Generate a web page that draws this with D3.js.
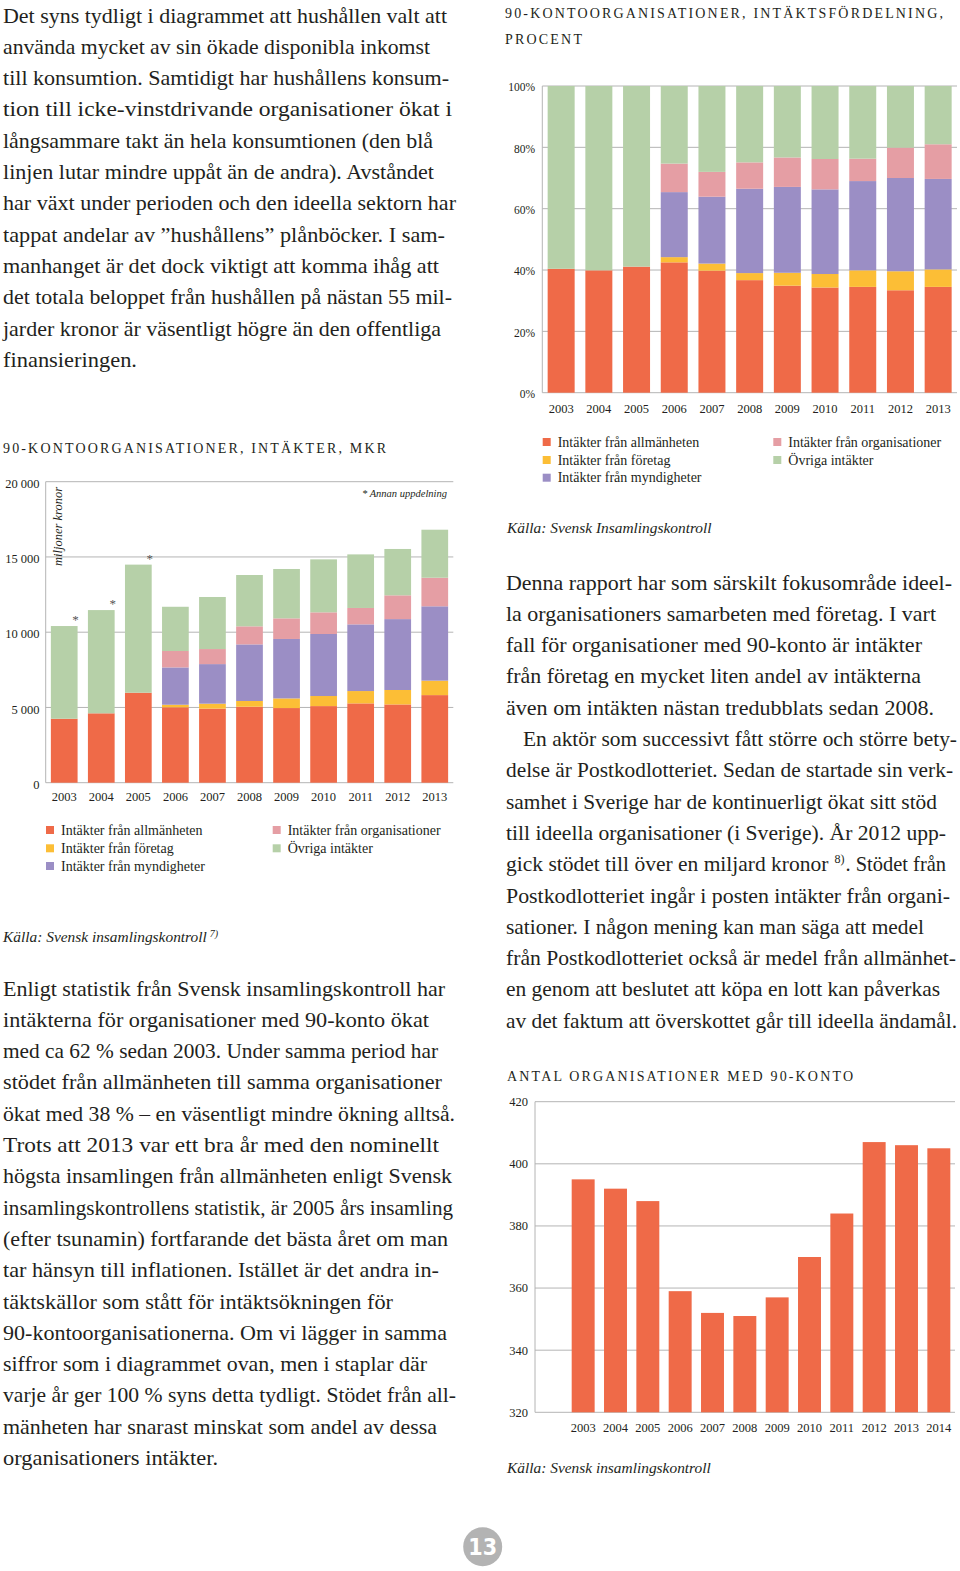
<!DOCTYPE html>
<html>
<head>
<meta charset="utf-8">
<script src="https://cdn.jsdelivr.net/npm/d3@7"></script>
<style>
  html, body { margin: 0; padding: 0; background: #fff; }
  svg { display: block; }
  text { font-family: "Liberation Serif", "DejaVu Serif", serif; fill: #231f20; }
</style>
</head>
<body>
<svg id="page" width="960" height="1571"></svg>
<script>
// ---------- DATA ----------
const years = ["2003","2004","2005","2006","2007","2008","2009","2010","2011","2012","2013"];

// Intäkter, MKR (miljoner kronor)
const mkrAllmanheten    = [4250, 4610, 5980, 5010, 4920, 5050, 4960, 5090, 5270, 5200, 5820];
const mkrForetag        = [0, 0, 0, 170, 330, 380, 640, 670, 820, 960, 960];
const mkrMyndigheter    = [0, 0, 0, 2480, 2630, 3760, 3950, 4120, 4430, 4710, 4940];
const mkrOrganisationer = [0, 0, 0, 1090, 1000, 1200, 1370, 1440, 1090, 1580, 1900];
const mkrOvriga         = [6160, 6860, 8510, 2940, 3460, 3410, 3280, 3520, 3560, 3080, 3190];
const mkrTicks      = [0, 5000, 10000, 15000, 20000];
const mkrTickLabels = ["0", "5 000", "10 000", "15 000", "20 000"];
const annanYears = ["2003", "2004", "2005"];

// Intäktsfördelning, procent
const pctAllmanheten    = [40.4, 39.9, 41.1, 42.5, 39.8, 36.7, 34.9, 34.3, 34.5, 33.4, 34.5];
const pctForetag        = [0, 0, 0, 1.7, 2.3, 2.3, 4.2, 4.4, 5.4, 6.2, 5.7];
const pctMyndigheter    = [0, 0, 0, 21.2, 21.8, 27.5, 28.0, 27.6, 29.1, 30.4, 29.5];
const pctOrganisationer = [0, 0, 0, 9.3, 8.1, 8.6, 9.6, 9.9, 7.3, 9.9, 11.3];
const pctOvriga         = [59.6, 60.1, 58.9, 25.3, 28.0, 24.9, 23.3, 23.8, 23.7, 20.1, 19.0];
const pctTicks      = [0, 20, 40, 60, 80, 100];
const pctTickLabels = ["0%", "20%", "40%", "60%", "80%", "100%"];

// Antal organisationer med 90-konto
const orgYears = ["2003","2004","2005","2006","2007","2008","2009","2010","2011","2012","2013","2014"];
const orgCount = [395, 392, 388, 359, 352, 351, 357, 370, 384, 407, 406, 405];
const orgTicks = [320, 340, 360, 380, 400, 420];

const seriesKeys  = ["allm", "foretag", "myndigheter", "org", "ovriga"];
const seriesNames = ["Intäkter från allmänheten", "Intäkter från företag", "Intäkter från myndigheter",
                     "Intäkter från organisationer", "Övriga intäkter"];
const seriesColors = ["#ef6a48", "#fcbe36", "#9b8ec5", "#e59ea4", "#b6d0a8"];

// Texts
const paraTopLeft = [
  "Det syns tydligt i diagrammet att hushållen valt att",
  "använda mycket av sin ökade disponibla inkomst",
  "till konsumtion. Samtidigt har hushållens konsum-",
  "tion till icke-vinstdrivande organisationer ökat i",
  "långsammare takt än hela konsumtionen (den blå",
  "linjen lutar mindre uppåt än de andra). Avståndet",
  "har växt under perioden och den ideella sektorn har",
  "tappat andelar av ”hushållens” plånböcker. I sam-",
  "manhanget är det dock viktigt att komma ihåg att",
  "det totala beloppet från hushållen på nästan 55 mil-",
  "jarder kronor är väsentligt högre än den offentliga",
  "finansieringen."
];
const paraBottomLeft = [
  "Enligt statistik från Svensk insamlingskontroll har",
  "intäkterna för organisationer med 90-konto ökat",
  "med ca 62 % sedan 2003. Under samma period har",
  "stödet från allmänheten till samma organisationer",
  "ökat med 38 % – en väsentligt mindre ökning alltså.",
  "Trots att 2013 var ett bra år med den nominellt",
  "högsta insamlingen från allmänheten enligt Svensk",
  "insamlingskontrollens statistik, är 2005 års insamling",
  "(efter tsunamin) fortfarande det bästa året om man",
  "tar hänsyn till inflationen. Istället är det andra in-",
  "täktskällor som stått för intäktsökningen för",
  "90-kontoorganisationerna. Om vi lägger in samma",
  "siffror som i diagrammet ovan, men i staplar där",
  "varje år ger 100 % syns detta tydligt. Stödet från all-",
  "mänheten har snarast minskat som andel av dessa",
  "organisationers intäkter."
];
const paraRight = [
  "Denna rapport har som särskilt fokusområde ideel-",
  "la organisationers samarbeten med företag. I vart",
  "fall för organisationer med 90-konto är intäkter",
  "från företag en mycket liten andel av intäkterna",
  "även om intäkten nästan tredubblats sedan 2008.",
  "En aktör som successivt fått större och större bety-",
  "delse är Postkodlotteriet. Sedan de startade sin verk-",
  "samhet i Sverige har de kontinuerligt ökat sitt stöd",
  "till ideella organisationer (i Sverige). År 2012 upp-",
  "gick stödet till över en miljard kronor|8)|. Stödet från",
  "Postkodlotteriet ingår i posten intäkter från organi-",
  "sationer. I någon mening kan man säga att medel",
  "från Postkodlotteriet också är medel från allmänhet-",
  "en genom att beslutet att köpa en lott kan påverkas",
  "av det faktum att överskottet går till ideella ändamål."
];

// ---------- LAYOUT (line right edges measured on the page) ----------
const endsTopLeft    = [447, 430, 449, 452, 433, 434, 456, 445, 439, 452, 441, 137];
const endsBottomLeft = [445, 429, 438, 442, 455, 439, 452, 453, 448, 439, 393, 447, 427, 456, 437, 218];
const endsRight      = [952, 936, 922, 921, 934, 957, 953, 937, 946, 946, 950, 924, 956, 940, 957];

// ---------- DRAWING ----------
const svg = d3.select("#page");
svg.append("rect").attr("width", 960).attr("height", 1571).attr("fill", "#fff");

const GRID = "#b4b4b4";

function paragraph(lines, ends, x, y0, step, opts = {}) {
  const g = svg.append("g");
  lines.forEach((line, i) => {
    const lx = x + ((opts.indent && opts.indent[i]) || 0);
    const y = y0 + i * step;
    const parts = line.split("|");
    if (parts.length === 1) {
      g.append("text")
        .attr("x", lx).attr("y", y)
        .style("font-size", "21.5px")
        .attr("textLength", ends[i] - lx)
        .attr("lengthAdjust", "spacingAndGlyphs")
        .text(line);
    } else {
      // line with a footnote mark: separate pieces, placed one after another
      const a = g.append("text").attr("x", lx).attr("y", y).style("font-size", "21.5px").text(parts[0]);
      const wa = a.node().getComputedTextLength();
      const s = g.append("text").attr("x", lx + wa + 6).attr("y", y - 8).style("font-size", "12px").text(parts[1]);
      const ws = s.node().getComputedTextLength();
      const bx = lx + wa + 6 + ws + 1;
      g.append("text").attr("x", bx).attr("y", y).style("font-size", "21.5px")
        .attr("textLength", Math.max(10, ends[i] - bx)).attr("lengthAdjust", "spacingAndGlyphs")
        .text(parts[2]);
    }
  });
}

paragraph(paraTopLeft, endsTopLeft, 3, 22.5, 31.3);
paragraph(paraBottomLeft, endsBottomLeft, 3, 995.5, 31.3);
paragraph(paraRight, endsRight, 506, 589.5, 31.3, { indent: { 5: 17 } });

function title(txt, x, y, width) {
  svg.append("text").attr("x", x).attr("y", y)
    .style("font-size", "14px")
    .attr("textLength", width).attr("lengthAdjust", "spacing")
    .text(txt);
}
title("90-KONTOORGANISATIONER, INTÄKTSFÖRDELNING,", 505, 18, 438);
title("PROCENT", 505, 44, 77);
title("90-KONTOORGANISATIONER, INTÄKTER, MKR", 3, 452.5, 383);
title("ANTAL ORGANISATIONER MED 90-KONTO", 507, 1080.5, 346);

function legend(x0, x1, yRows) {
  const items = [
    { i: 0, x: x0, y: yRows[0] }, { i: 1, x: x0, y: yRows[1] }, { i: 2, x: x0, y: yRows[2] },
    { i: 3, x: x1, y: yRows[0] }, { i: 4, x: x1, y: yRows[1] }
  ];
  const g = svg.append("g");
  items.forEach(d => {
    g.append("rect").attr("x", d.x).attr("y", d.y - 4).attr("width", 8).attr("height", 8)
      .attr("fill", seriesColors[d.i]);
    g.append("text").attr("x", d.x + 15).attr("y", d.y + 4.5)
      .style("font-size", "14px").text(seriesNames[d.i]);
  });
}

function source(txt, x, y, sup) {
  const t = svg.append("text").attr("x", x).attr("y", y)
    .style("font-size", "15.4px").style("font-style", "italic").text(txt);
  if (sup) t.append("tspan").attr("dx", 3).attr("baseline-shift", "super").style("font-size", "10px").text(sup);
}

function rowsFrom(a, b, c, d, e) {
  return years.map((y, i) => ({ year: y, allm: a[i], foretag: b[i], myndigheter: c[i], org: d[i], ovriga: e[i] }));
}

function stackedChart(rows, opt) {
  const g = svg.append("g");
  const x = d3.scaleBand().domain(years).range(opt.xr).paddingInner(opt.pad).paddingOuter(opt.pad / 2);
  const y = d3.scaleLinear().domain(opt.yd).range(opt.yr);
  g.append("g").selectAll("line").data(opt.ticks).join("line")
    .attr("x1", opt.xr[0]).attr("x2", opt.xr[1])
    .attr("y1", d => y(d)).attr("y2", d => y(d))
    .attr("stroke", GRID).attr("stroke-width", 1);
  g.append("line").attr("x1", opt.xr[0]).attr("x2", opt.xr[0])
    .attr("y1", y(opt.yd[0])).attr("y2", y(opt.yd[1])).attr("stroke", GRID);
  const stack = d3.stack().keys(seriesKeys)(rows);
  g.append("g").selectAll("g").data(stack).join("g")
    .attr("fill", (d, i) => seriesColors[i])
    .selectAll("rect").data(d => d).join("rect")
    .attr("x", d => x(d.data.year))
    .attr("width", x.bandwidth())
    .attr("y", d => y(d[1]))
    .attr("height", d => Math.max(0, y(d[0]) - y(d[1])));
  g.append("g").selectAll("text").data(opt.ticks).join("text")
    .attr("x", opt.labelX).attr("y", d => y(d)).attr("dy", opt.tickDy)
    .attr("text-anchor", "end").style("font-size", opt.tickSize)
    .text((d, i) => opt.tickLabels[i]);
  g.append("g").selectAll("text").data(years).join("text")
    .attr("x", d => x(d) + x.bandwidth() / 2).attr("y", opt.yearY)
    .attr("text-anchor", "middle").style("font-size", "12.5px").text(d => d);
  return { x, y, g };
}

// Left chart: MKR
const mkr = stackedChart(
  rowsFrom(mkrAllmanheten, mkrForetag, mkrMyndigheter, mkrOrganisationer, mkrOvriga),
  { xr: [45.7, 453.3], pad: 0.279, yd: [0, 20000], yr: [782.7, 481.7], ticks: mkrTicks,
    tickLabels: mkrTickLabels, labelX: 39.5, tickDy: "0.5em", tickSize: "12.5px", yearY: 801 });
const totals = years.map((y, i) => mkrAllmanheten[i] + mkrForetag[i] + mkrMyndigheter[i] + mkrOrganisationer[i] + mkrOvriga[i]);
mkr.g.append("g").selectAll("text").data(annanYears).join("text")
  .attr("x", d => mkr.x(d) + mkr.x.bandwidth() - 2)
  .attr("y", d => mkr.y(totals[years.indexOf(d)]) - 2)
  .attr("text-anchor", "middle").style("font-size", "13px").style("fill", "#555").text("*");
svg.append("text").attr("x", 447).attr("y", 497).attr("text-anchor", "end")
  .style("font-size", "10.5px").style("font-style", "italic").text("* Annan uppdelning");
svg.append("text").attr("transform", "translate(62,487) rotate(-90)")
  .attr("text-anchor", "end").style("font-size", "12.5px").style("font-style", "italic")
  .text("miljoner kronor");
legend(46, 272.7, [830, 848.3, 866]);
source("Källa: Svensk insamlingskontroll", 3, 941.5, "7)");

// Top right chart: percent
stackedChart(
  rowsFrom(pctAllmanheten, pctForetag, pctMyndigheter, pctOrganisationer, pctOvriga),
  { xr: [542.3, 957], pad: 0.284, yd: [0, 100], yr: [392.7, 86], ticks: pctTicks,
    tickLabels: pctTickLabels, labelX: 535, tickDy: "0.45em", tickSize: "11.5px", yearY: 412.5 });
legend(542.7, 773.3, [442, 460, 477.7]);
source("Källa: Svensk Insamlingskontroll", 507, 533);

// Bottom right chart: antal organisationer
(function () {
  const g = svg.append("g");
  const xr = [567, 955];
  const x = d3.scaleBand().domain(orgYears).range(xr).paddingInner(0.29).paddingOuter(0.145);
  const y = d3.scaleLinear().domain([320, 420]).range([1412.3, 1101.7]);
  g.append("g").selectAll("line").data(orgTicks).join("line")
    .attr("x1", 535).attr("x2", 955)
    .attr("y1", d => y(d)).attr("y2", d => y(d))
    .attr("stroke", GRID);
  g.append("line").attr("x1", 535).attr("x2", 535).attr("y1", y(320)).attr("y2", y(420)).attr("stroke", GRID);
  g.append("g").selectAll("rect").data(orgYears).join("rect")
    .attr("x", d => x(d)).attr("width", x.bandwidth())
    .attr("y", (d, i) => y(orgCount[i]))
    .attr("height", (d, i) => y(320) - y(orgCount[i]))
    .attr("fill", seriesColors[0]);
  g.append("g").selectAll("text").data(orgTicks).join("text")
    .attr("x", 528).attr("y", d => y(d)).attr("dy", "0.35em")
    .attr("text-anchor", "end").style("font-size", "12.5px").text(d => d);
  g.append("g").selectAll("text").data(orgYears).join("text")
    .attr("x", d => x(d) + x.bandwidth() / 2).attr("y", 1431.5)
    .attr("text-anchor", "middle").style("font-size", "12.5px").text(d => d);
})();
source("Källa: Svensk insamlingskontroll", 507, 1472.5);

// Page number
svg.append("circle").attr("cx", 482.7).attr("cy", 1546.7).attr("r", 19.5).attr("fill", "#b3b3b3");
svg.append("text").attr("x", 482.7).attr("y", 1555).attr("text-anchor", "middle")
  .style("font-family", "'DejaVu Sans Condensed', 'Liberation Sans Narrow', 'DejaVu Sans', sans-serif")
  .style("font-weight", "bold").style("font-size", "23px").style("fill", "#fff").text("13");
</script>
</body>
</html>
